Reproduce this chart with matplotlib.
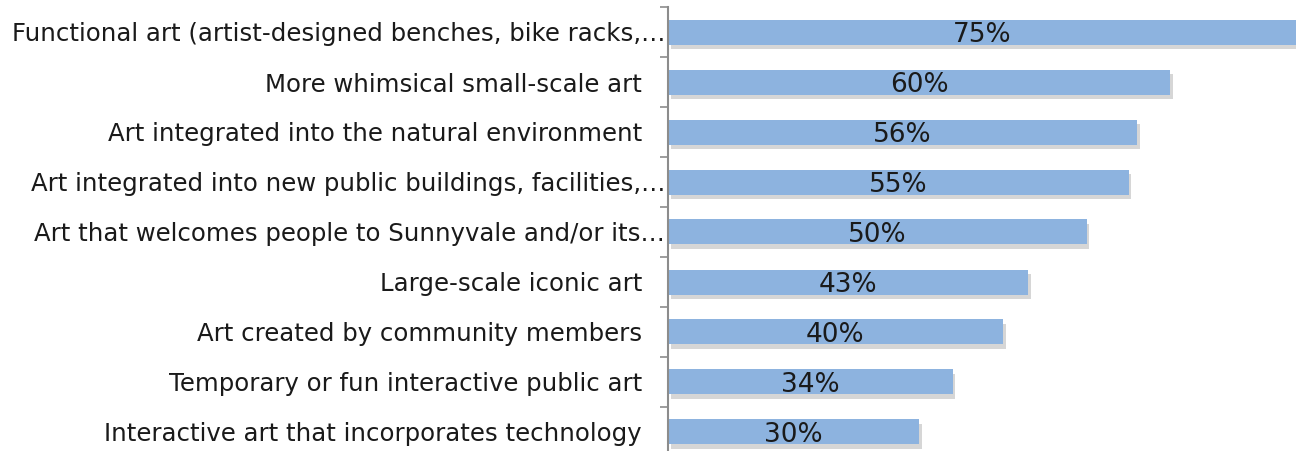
import matplotlib
matplotlib.use("Agg")
import matplotlib.pyplot as plt
import matplotlib.patheffects as pe
import numpy as np

categories = [
    "Functional art (artist-designed benches, bike racks,\u2026",
    "More whimsical small-scale art   ",
    "Art integrated into the natural environment   ",
    "Art integrated into new public buildings, facilities,\u2026",
    "Art that welcomes people to Sunnyvale and/or its\u2026",
    "Large-scale iconic art   ",
    "Art created by community members   ",
    "Temporary or fun interactive public art   ",
    "Interactive art that incorporates technology   ",
]
values = [75, 60, 56, 55, 50, 43, 40, 34, 30]

fig = plt.figure(figsize=(12.99, 4.51), dpi=100)
ax = fig.add_axes([668 / 1299, 0, (1296 - 668) / 1299, 1 - 7 / 451])

y = np.arange(len(categories))
bars = ax.barh(y, values, height=0.5, color="#8DB3DF", zorder=2)
for b in bars:
    b.set_path_effects([pe.SimplePatchShadow(offset=(2, -3), shadow_rgbFace="#9a9a9a", alpha=0.4), pe.Normal()])

for yi, v in zip(y, values):
    ax.text(v / 2, yi + 0.07, f"{v}%", ha="center", va="center", fontsize=19, color="#1a1a1a")

ax.set_xlim(0, 75)
ax.set_ylim(-0.5 + 444 / 50, -0.5)
ax.set_yticks(y)
ax.set_yticklabels(categories, fontsize=17.6, color="#1a1a1a")
ax.set_yticks(np.arange(len(categories)) - 0.5, minor=True)
ax.tick_params(axis="y", which="major", length=0, pad=2)
ax.tick_params(axis="y", which="minor", length=6, width=1.2, color="#8c8c8c")
ax.set_xticks([])
for s in ["top", "right", "bottom"]:
    ax.spines[s].set_visible(False)
ax.spines["left"].set_color("#8c8c8c")
ax.spines["left"].set_linewidth(1.5)

fig.savefig("out.png", dpi=100)
